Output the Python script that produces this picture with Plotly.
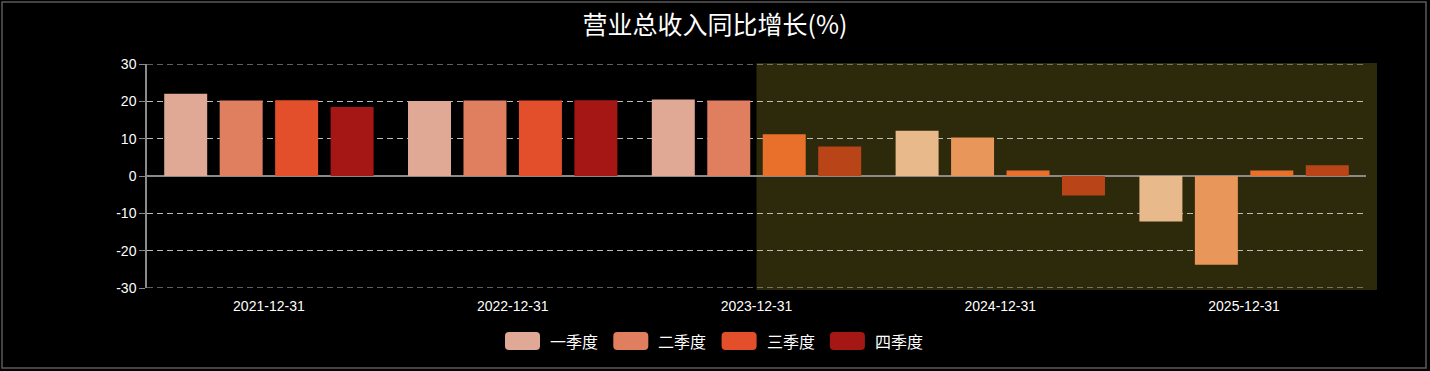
import plotly.graph_objects as go

years = ["2021-12-31", "2022-12-31", "2023-12-31", "2024-12-31", "2025-12-31"]
quarters = ["一季度", "二季度", "三季度", "四季度"]
q1 = [22.0, 20.1, 20.5, 12.1, -12.2]
q2 = [20.2, 20.2, 20.2, 10.3, -23.8]
q3 = [20.3, 20.2, 11.2, 1.5, 1.5]
q4 = [18.5, 20.3, 7.9, -5.2, 2.9]
# forecast flags (shaded region) per quarter series
fc1 = [False, False, False, True, True]
fc2 = [False, False, False, True, True]
fc3 = [False, False, True, True, True]
fc4 = [False, False, True, True, True]
y_ticks = [-30, -20, -10, 0, 10, 20, 30]
y_tick_text = ["-30", "-20", "-10", "0", "10", "20", "30"]

hist_colors = ["#DFA995", "#E07F5F", "#E34E2B", "#A51714"]
fc_colors = ["#E8B98B", "#E8965A", "#E8702B", "#B84418"]

series = [q1, q2, q3, q4]
flags = [fc1, fc2, fc3, fc4]

fig = go.Figure()
for i, (name, vals, fl) in enumerate(zip(quarters, series, flags)):
    cols = [fc_colors[i] if f else hist_colors[i] for f in fl]
    fig.add_trace(go.Bar(x=years, y=vals, name=name, showlegend=False,
                         marker=dict(color=cols, line=dict(width=0))))

W, H = 1430, 371
L, R, T, B = 147, 64, 64, 83
pw, ph = W - L - R, H - T - B

def px_x(p):
    return (p - L) / pw

def px_y(p):
    return (H - B - p) / ph

# shaded forecast region
fig.add_shape(type="rect", xref="paper", yref="paper",
              x0=0.5, x1=px_x(1377), y0=px_y(290), y1=px_y(63),
              fillcolor="#2D2A0C", line=dict(width=0), layer="below")
# outer border
fig.add_shape(type="rect", xref="paper", yref="paper",
              x0=px_x(2), x1=px_x(1426), y0=px_y(368), y1=px_y(2),
              fillcolor="rgba(0,0,0,0)", line=dict(color="#5A5A5A", width=1.5), layer="below")
# edge gridlines
for yv in (y_ticks[0], y_ticks[-1]):
    fig.add_shape(type="line", xref="paper", yref="y", x0=0, x1=1, y0=yv, y1=yv,
                  line=dict(color="#BBBBBB", width=1, dash="6px,4px"), layer="below")

# manual legend (rounded swatches)
leg_cy = 341
for i, name in enumerate(quarters):
    x0p = 505 + i * 108.3
    x1p = x0p + 35
    y0p, y1p = leg_cy - 9, leg_cy + 9
    r = 4
    X = lambda p: px_x(p)
    Y = lambda p: px_y(p)
    path = (f"M {X(x0p + r)},{Y(y0p)} L {X(x1p - r)},{Y(y0p)} "
            f"Q {X(x1p)},{Y(y0p)} {X(x1p)},{Y(y0p + r)} L {X(x1p)},{Y(y1p - r)} "
            f"Q {X(x1p)},{Y(y1p)} {X(x1p - r)},{Y(y1p)} L {X(x0p + r)},{Y(y1p)} "
            f"Q {X(x0p)},{Y(y1p)} {X(x0p)},{Y(y1p - r)} L {X(x0p)},{Y(y0p + r)} "
            f"Q {X(x0p)},{Y(y0p)} {X(x0p + r)},{Y(y0p)} Z")
    fig.add_shape(type="path", xref="paper", yref="paper", path=path,
                  fillcolor=hist_colors[i], line=dict(width=0))
    fig.add_annotation(xref="paper", yref="paper", x=px_x(x0p + 43), y=px_y(leg_cy),
                       xanchor="left", yanchor="middle", text=name, showarrow=False,
                       font=dict(family="Noto Sans CJK SC", size=16, color="#FFFFFF"))

fig.update_layout(
    width=W, height=H,
    margin=dict(l=L, r=R, t=T, b=B, autoexpand=False),
    paper_bgcolor="#000000", plot_bgcolor="rgba(0,0,0,0)",
    barmode="group", bargap=0.09, bargroupgap=0.225,
    title=dict(text="营业总收入同比增长(%)", x=0.5, xanchor="center", y=1 - 25 / H, yanchor="middle",
               font=dict(family="Noto Sans CJK SC", size=25, color="#FFFFFF")),
    font=dict(family="Liberation Sans, Arial", color="#FFFFFF", size=13),
    showlegend=False,
    xaxis=dict(type="category", range=[-0.5, 4.5], showgrid=False, showline=False,
               ticks="", tickfont=dict(size=14, color="#FFFFFF"), ticklabelstandoff=8),
    yaxis=dict(range=[-30, 30], tickvals=y_ticks, ticktext=y_tick_text,
               showgrid=True, gridcolor="#BBBBBB", griddash="6px,4px", gridwidth=1,
               zeroline=True, zerolinecolor="#8A8A8A", zerolinewidth=2,
               showline=True, linecolor="#8A8A8A", linewidth=1.5,
               ticks="outside", ticklen=6, tickcolor="#8A8A8A",
               tickfont=dict(size=14, color="#FFFFFF")),
)

fig.write_html("out.html", config={"displayModeBar": False},
               post_script="document.body.style.margin='0';document.body.style.overflow='hidden';")
